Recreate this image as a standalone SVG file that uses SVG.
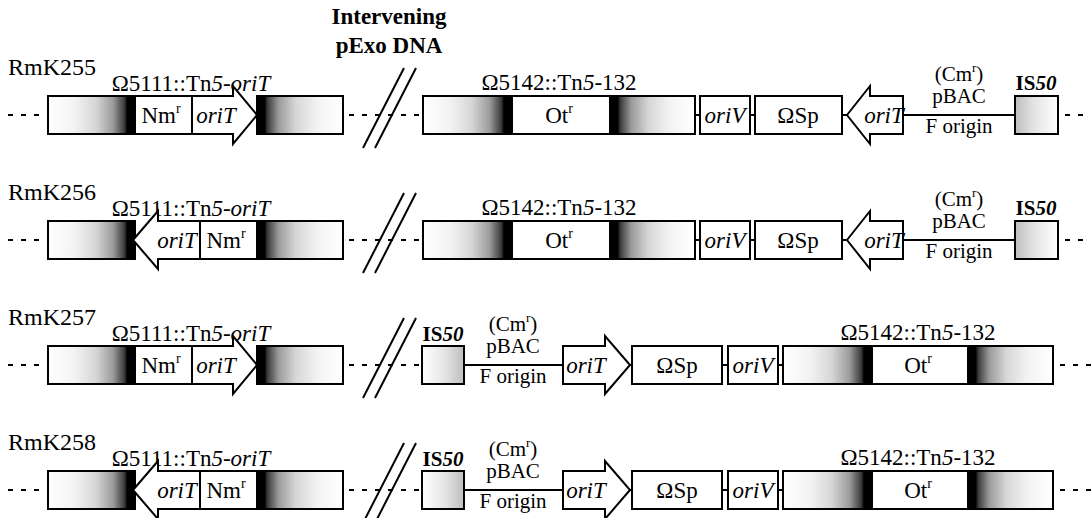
<svg xmlns="http://www.w3.org/2000/svg" width="1091" height="518" viewBox="0 0 1091 518">
  <defs>
    <style>
      .t { font-family: "Liberation Serif", "Times New Roman", "DejaVu Serif", serif; font-size: 23px; fill: #000; }
      .s { font-size: 21px; }
      .it { font-style: italic; }
      .bd { font-weight: bold; }
      .hd { font-family: "Liberation Serif", "Times New Roman", "DejaVu Serif", serif; font-size: 23px; font-weight: bold; fill: #000; }
      .lbl { font-family: "Liberation Serif", "Times New Roman", "DejaVu Serif", serif; font-size: 24px; fill: #000; }
      .bx { fill: #fff; stroke: #000; stroke-width: 2; }
      .gl { fill: url(#fadeToRight); stroke: #000; stroke-width: 2; }
      .gr { fill: url(#fadeToLeft); stroke: #000; stroke-width: 2; }
      .isl { fill: url(#isLeft); stroke: #000; stroke-width: 2; }
      .isr { fill: url(#isRight); stroke: #000; stroke-width: 2; }
      .ln { stroke: #000; stroke-width: 2; fill: none; }
      .dsh { stroke: #000; stroke-width: 2; stroke-dasharray: 5 8; fill: none; }
    </style>
    <!-- Tn5 end: light on the outside, black next to the insert -->
    <linearGradient id="fadeToRight" x1="0" y1="0" x2="1" y2="0">
      <stop offset="0" stop-color="#fff"/>
      <stop offset="0.3" stop-color="#f3f3f3"/>
      <stop offset="0.55" stop-color="#d6d6d6"/>
      <stop offset="0.75" stop-color="#9a9a9a"/>
      <stop offset="0.88" stop-color="#3a3a3a"/>
      <stop offset="0.91" stop-color="#000"/>
      <stop offset="1" stop-color="#000"/>
    </linearGradient>
    <linearGradient id="fadeToLeft" x1="0" y1="0" x2="1" y2="0">
      <stop offset="0" stop-color="#000"/>
      <stop offset="0.09" stop-color="#000"/>
      <stop offset="0.12" stop-color="#3a3a3a"/>
      <stop offset="0.25" stop-color="#9a9a9a"/>
      <stop offset="0.45" stop-color="#d6d6d6"/>
      <stop offset="0.7" stop-color="#f3f3f3"/>
      <stop offset="1" stop-color="#fff"/>
    </linearGradient>
    <linearGradient id="isLeft" x1="0" y1="0" x2="1" y2="0">
      <stop offset="0" stop-color="#bdbdbd"/>
      <stop offset="0.45" stop-color="#e4e4e4"/>
      <stop offset="1" stop-color="#fff"/>
    </linearGradient>
    <linearGradient id="isRight" x1="1" y1="0" x2="0" y2="0">
      <stop offset="0" stop-color="#bdbdbd"/>
      <stop offset="0.45" stop-color="#e4e4e4"/>
      <stop offset="1" stop-color="#fff"/>
    </linearGradient>
  </defs>

  <rect width="1091" height="518" fill="#fff"/>

  <!-- column heading -->
  <g id="heading">
    <text class="hd" x="389" y="24" text-anchor="middle">Intervening</text>
    <text class="hd" x="389" y="53" text-anchor="middle">pExo DNA</text>
  </g>

  <!-- ===================== RmK255 ===================== -->
  <g id="rmk255" transform="translate(0,96)">
    <text class="lbl" x="8" y="-21">RmK255</text>
    <g id="connectors-255">
      <line class="dsh" x1="8" y1="19" x2="42" y2="19"/>
      <line class="dsh" x1="349" y1="19" x2="423" y2="19"/>
      <line class="ln" x1="363" y1="52" x2="404" y2="-28"/>
      <line class="ln" x1="375" y1="52" x2="416" y2="-28"/>
      <line class="ln" x1="695" y1="19" x2="700" y2="19"/>
      <line class="ln" x1="750" y1="19" x2="755" y2="19"/>
      <line class="ln" x1="842" y1="19" x2="847" y2="19"/>
      <line class="ln" x1="903" y1="19" x2="1015" y2="19"/>
      <line class="dsh" x1="1065" y1="19" x2="1091" y2="19"/>
    </g>
    <g id="tn5-oriT-255">
      <text class="t" x="191" y="-5" text-anchor="middle">Ω5111::Tn<tspan class="it">5-oriT</tspan></text>
      <rect class="gl" x="48" y="0" width="87" height="38"/>
      <rect class="bx" x="135" y="0" width="57" height="38"/>
      <text class="t" x="161" y="27" text-anchor="middle">Nm<tspan font-size="14" dy="-10">r</tspan></text>
      <polygon class="bx" points="192,0 233,0 233,-10 257,19 233,48 233,38 192,38"/>
      <text class="t it" x="216" y="27" text-anchor="middle">oriT</text>
      <rect class="gr" x="257" y="0" width="86" height="38"/>
    </g>
    <g id="tn5-132-255">
      <text class="t" x="559" y="-6" text-anchor="middle">Ω5142::Tn<tspan class="it">5</tspan>-132</text>
      <rect class="gl" x="423" y="0" width="89" height="38"/>
      <rect class="bx" x="512" y="0" width="98" height="38"/>
      <text class="t" x="559" y="27" text-anchor="middle">Ot<tspan font-size="14" dy="-10">r</tspan></text>
      <rect class="gr" x="610" y="0" width="85" height="38"/>
    </g>
    <g id="oriV-255">
      <rect class="bx" x="700" y="0" width="50" height="38"/>
      <text class="t it" x="725" y="27" text-anchor="middle">oriV</text>
    </g>
    <g id="sp-255">
      <rect class="bx" x="755" y="0" width="87" height="38"/>
      <text class="t" x="798" y="27" text-anchor="middle">ΩSp</text>
    </g>
    <g id="oriT-255">
      <polygon class="bx" points="847,19 870,-10 870,0 903,0 903,38 870,38 870,48"/>
      <text class="t it" x="884" y="27" text-anchor="middle">oriT</text>
    </g>
    <g id="pbac-255">
      <text class="t s" x="959" y="-15" text-anchor="middle">(Cm<tspan font-size="13" dy="-9">r</tspan><tspan dy="9">)</tspan></text>
      <text class="t s" x="959" y="7" text-anchor="middle">pBAC</text>
      <text class="t s" x="959" y="37" text-anchor="middle">F origin</text>
    </g>
    <g id="is50-255">
      <text class="t s bd" x="1036" y="-6" text-anchor="middle">IS<tspan class="it">50</tspan></text>
      <rect class="isl" x="1015" y="0" width="43" height="38"/>
    </g>
  </g>

  <!-- ===================== RmK256 ===================== -->
  <g id="rmk256" transform="translate(0,221)">
    <text class="lbl" x="8" y="-21">RmK256</text>
    <g id="connectors-256">
      <line class="dsh" x1="8" y1="19" x2="42" y2="19"/>
      <line class="dsh" x1="349" y1="19" x2="423" y2="19"/>
      <line class="ln" x1="363" y1="52" x2="404" y2="-28"/>
      <line class="ln" x1="375" y1="52" x2="416" y2="-28"/>
      <line class="ln" x1="695" y1="19" x2="700" y2="19"/>
      <line class="ln" x1="750" y1="19" x2="755" y2="19"/>
      <line class="ln" x1="842" y1="19" x2="847" y2="19"/>
      <line class="ln" x1="903" y1="19" x2="1015" y2="19"/>
      <line class="dsh" x1="1065" y1="19" x2="1091" y2="19"/>
    </g>
    <g id="tn5-oriT-256">
      <text class="t" x="191" y="-5" text-anchor="middle">Ω5111::Tn<tspan class="it">5-oriT</tspan></text>
      <rect class="gl" x="48" y="0" width="87" height="38"/>
      <polygon class="bx" points="133,19 158,-10 158,0 200,0 200,38 158,38 158,48"/>
      <text class="t it" x="177" y="27" text-anchor="middle">oriT</text>
      <rect class="bx" x="200" y="0" width="57" height="38"/>
      <text class="t" x="226" y="27" text-anchor="middle">Nm<tspan font-size="14" dy="-10">r</tspan></text>
      <rect class="gr" x="257" y="0" width="86" height="38"/>
    </g>
    <g id="tn5-132-256">
      <text class="t" x="559" y="-6" text-anchor="middle">Ω5142::Tn<tspan class="it">5</tspan>-132</text>
      <rect class="gl" x="423" y="0" width="89" height="38"/>
      <rect class="bx" x="512" y="0" width="98" height="38"/>
      <text class="t" x="559" y="27" text-anchor="middle">Ot<tspan font-size="14" dy="-10">r</tspan></text>
      <rect class="gr" x="610" y="0" width="85" height="38"/>
    </g>
    <g id="oriV-256">
      <rect class="bx" x="700" y="0" width="50" height="38"/>
      <text class="t it" x="725" y="27" text-anchor="middle">oriV</text>
    </g>
    <g id="sp-256">
      <rect class="bx" x="755" y="0" width="87" height="38"/>
      <text class="t" x="798" y="27" text-anchor="middle">ΩSp</text>
    </g>
    <g id="oriT-256">
      <polygon class="bx" points="847,19 870,-10 870,0 903,0 903,38 870,38 870,48"/>
      <text class="t it" x="884" y="27" text-anchor="middle">oriT</text>
    </g>
    <g id="pbac-256">
      <text class="t s" x="959" y="-15" text-anchor="middle">(Cm<tspan font-size="13" dy="-9">r</tspan><tspan dy="9">)</tspan></text>
      <text class="t s" x="959" y="7" text-anchor="middle">pBAC</text>
      <text class="t s" x="959" y="37" text-anchor="middle">F origin</text>
    </g>
    <g id="is50-256">
      <text class="t s bd" x="1036" y="-6" text-anchor="middle">IS<tspan class="it">50</tspan></text>
      <rect class="isl" x="1015" y="0" width="43" height="38"/>
    </g>
  </g>

  <!-- ===================== RmK257 ===================== -->
  <g id="rmk257" transform="translate(0,346)">
    <text class="lbl" x="8" y="-21">RmK257</text>
    <g id="connectors-257">
      <line class="dsh" x1="8" y1="19" x2="42" y2="19"/>
      <line class="dsh" x1="349" y1="19" x2="422" y2="19"/>
      <line class="ln" x1="363" y1="52" x2="404" y2="-28"/>
      <line class="ln" x1="375" y1="52" x2="416" y2="-28"/>
      <line class="ln" x1="464" y1="19" x2="563" y2="19"/>
      <line class="ln" x1="630" y1="19" x2="632" y2="19"/>
      <line class="ln" x1="722" y1="19" x2="728" y2="19"/>
      <line class="ln" x1="778" y1="19" x2="783" y2="19"/>
      <line class="dsh" x1="1060" y1="19" x2="1091" y2="19"/>
    </g>
    <g id="tn5-oriT-257">
      <text class="t" x="191" y="-5" text-anchor="middle">Ω5111::Tn<tspan class="it">5-oriT</tspan></text>
      <rect class="gl" x="48" y="0" width="87" height="38"/>
      <rect class="bx" x="135" y="0" width="57" height="38"/>
      <text class="t" x="161" y="27" text-anchor="middle">Nm<tspan font-size="14" dy="-10">r</tspan></text>
      <polygon class="bx" points="192,0 233,0 233,-10 257,19 233,48 233,38 192,38"/>
      <text class="t it" x="216" y="27" text-anchor="middle">oriT</text>
      <rect class="gr" x="257" y="0" width="86" height="38"/>
    </g>
    <g id="is50-257">
      <text class="t s bd" x="443" y="-5" text-anchor="middle">IS<tspan class="it">50</tspan></text>
      <rect class="isr" x="422" y="0" width="42" height="38"/>
    </g>
    <g id="pbac-257">
      <text class="t s" x="513" y="-15" text-anchor="middle">(Cm<tspan font-size="13" dy="-9">r</tspan><tspan dy="9">)</tspan></text>
      <text class="t s" x="513" y="7" text-anchor="middle">pBAC</text>
      <text class="t s" x="513" y="37" text-anchor="middle">F origin</text>
    </g>
    <g id="oriT-257">
      <polygon class="bx" points="563,0 605,0 605,-10 630,19 605,48 605,38 563,38"/>
      <text class="t it" x="586" y="27" text-anchor="middle">oriT</text>
    </g>
    <g id="sp-257">
      <rect class="bx" x="632" y="0" width="90" height="38"/>
      <text class="t" x="677" y="27" text-anchor="middle">ΩSp</text>
    </g>
    <g id="oriV-257">
      <rect class="bx" x="728" y="0" width="50" height="38"/>
      <text class="t it" x="753" y="27" text-anchor="middle">oriV</text>
    </g>
    <g id="tn5-132-257">
      <text class="t" x="918" y="-6" text-anchor="middle">Ω5142::Tn<tspan class="it">5</tspan>-132</text>
      <rect class="gl" x="783" y="0" width="89" height="38"/>
      <rect class="bx" x="872" y="0" width="96" height="38"/>
      <text class="t" x="918" y="27" text-anchor="middle">Ot<tspan font-size="14" dy="-10">r</tspan></text>
      <rect class="gr" x="968" y="0" width="85" height="38"/>
    </g>
  </g>

  <!-- ===================== RmK258 ===================== -->
  <g id="rmk258" transform="translate(0,471)">
    <text class="lbl" x="8" y="-21">RmK258</text>
    <g id="connectors-258">
      <line class="dsh" x1="8" y1="19" x2="42" y2="19"/>
      <line class="dsh" x1="349" y1="19" x2="422" y2="19"/>
      <line class="ln" x1="363" y1="52" x2="404" y2="-28"/>
      <line class="ln" x1="375" y1="52" x2="416" y2="-28"/>
      <line class="ln" x1="464" y1="19" x2="563" y2="19"/>
      <line class="ln" x1="630" y1="19" x2="632" y2="19"/>
      <line class="ln" x1="722" y1="19" x2="728" y2="19"/>
      <line class="ln" x1="778" y1="19" x2="783" y2="19"/>
      <line class="dsh" x1="1060" y1="19" x2="1091" y2="19"/>
    </g>
    <g id="tn5-oriT-258">
      <text class="t" x="191" y="-5" text-anchor="middle">Ω5111::Tn<tspan class="it">5-oriT</tspan></text>
      <rect class="gl" x="48" y="0" width="87" height="38"/>
      <polygon class="bx" points="133,19 158,-10 158,0 200,0 200,38 158,38 158,48"/>
      <text class="t it" x="177" y="27" text-anchor="middle">oriT</text>
      <rect class="bx" x="200" y="0" width="57" height="38"/>
      <text class="t" x="226" y="27" text-anchor="middle">Nm<tspan font-size="14" dy="-10">r</tspan></text>
      <rect class="gr" x="257" y="0" width="86" height="38"/>
    </g>
    <g id="is50-258">
      <text class="t s bd" x="443" y="-5" text-anchor="middle">IS<tspan class="it">50</tspan></text>
      <rect class="isr" x="422" y="0" width="42" height="38"/>
    </g>
    <g id="pbac-258">
      <text class="t s" x="513" y="-15" text-anchor="middle">(Cm<tspan font-size="13" dy="-9">r</tspan><tspan dy="9">)</tspan></text>
      <text class="t s" x="513" y="7" text-anchor="middle">pBAC</text>
      <text class="t s" x="513" y="37" text-anchor="middle">F origin</text>
    </g>
    <g id="oriT-258">
      <polygon class="bx" points="563,0 605,0 605,-10 630,19 605,48 605,38 563,38"/>
      <text class="t it" x="586" y="27" text-anchor="middle">oriT</text>
    </g>
    <g id="sp-258">
      <rect class="bx" x="632" y="0" width="90" height="38"/>
      <text class="t" x="677" y="27" text-anchor="middle">ΩSp</text>
    </g>
    <g id="oriV-258">
      <rect class="bx" x="728" y="0" width="50" height="38"/>
      <text class="t it" x="753" y="27" text-anchor="middle">oriV</text>
    </g>
    <g id="tn5-132-258">
      <text class="t" x="918" y="-6" text-anchor="middle">Ω5142::Tn<tspan class="it">5</tspan>-132</text>
      <rect class="gl" x="783" y="0" width="89" height="38"/>
      <rect class="bx" x="872" y="0" width="96" height="38"/>
      <text class="t" x="918" y="27" text-anchor="middle">Ot<tspan font-size="14" dy="-10">r</tspan></text>
      <rect class="gr" x="968" y="0" width="85" height="38"/>
    </g>
  </g>
</svg>
